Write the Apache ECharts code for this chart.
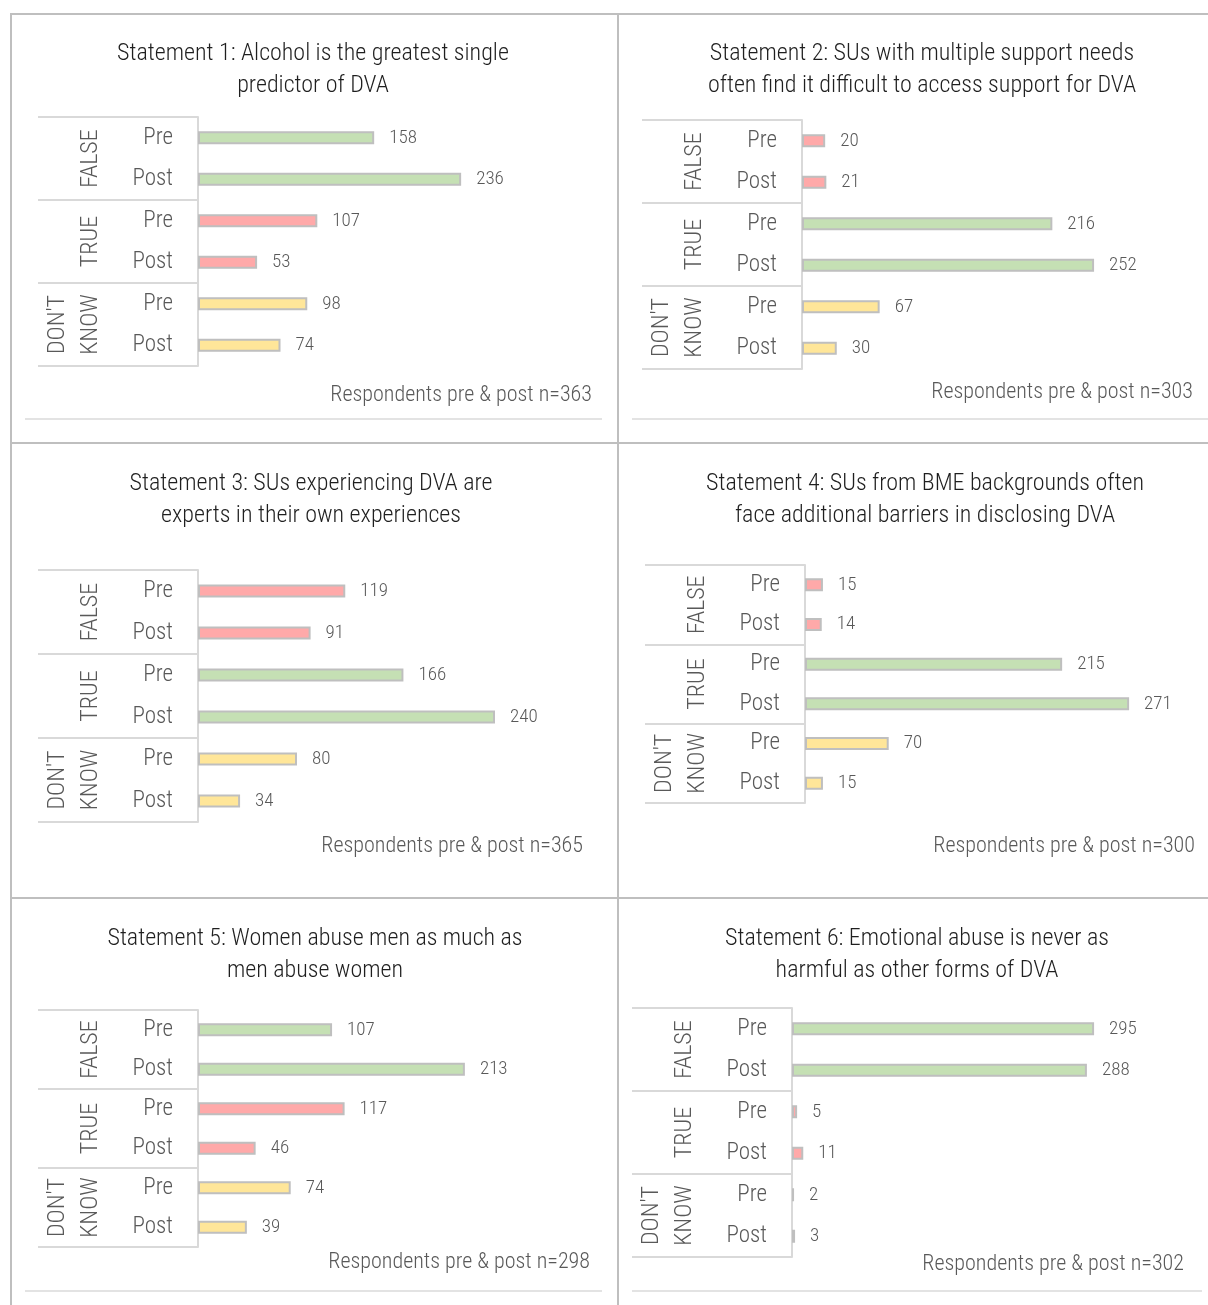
<!DOCTYPE html>
<html>
<head>
<meta charset="utf-8">
<script src="https://cdn.jsdelivr.net/npm/echarts@6/dist/echarts.min.js"></script>
<style>
  html, body { margin: 0; padding: 0; background: #ffffff; }
  #chart { width: 1208px; height: 1305px; }
</style>
</head>
<body>
<div id="chart"></div>
<script>
// Answer groups and survey phases (category axis)
const groups = ['FALSE', 'TRUE', "DON'T KNOW"];
const phases = ['Pre', 'Post'];

// Statement titles
const statements = [
  'Statement 1: Alcohol is the greatest single\npredictor of DVA',
  'Statement 2: SUs with multiple support needs\noften find it difficult to access support for DVA',
  'Statement 3: SUs experiencing DVA are\nexperts in their own experiences',
  'Statement 4: SUs from BME backgrounds often\nface additional barriers in disclosing DVA',
  'Statement 5: Women abuse men as much as\nmen abuse women',
  'Statement 6: Emotional abuse is never as\nharmful as other forms of DVA'
];

// Respondents per statement
const respondents = [363, 303, 365, 300, 298, 302];

// Counts in order: FALSE Pre, FALSE Post, TRUE Pre, TRUE Post, DON'T KNOW Pre, DON'T KNOW Post
const statement1 = [158, 236, 107, 53, 98, 74];
const statement2 = [20, 21, 216, 252, 67, 30];
const statement3 = [119, 91, 166, 240, 80, 34];
const statement4 = [15, 14, 215, 271, 70, 15];
const statement5 = [107, 213, 117, 46, 74, 39];
const statement6 = [295, 288, 5, 11, 2, 3];
const counts = [statement1, statement2, statement3, statement4, statement5, statement6];

// The correct answer for each statement
const correctAnswer = ['FALSE', 'TRUE', 'TRUE', 'TRUE', 'FALSE', 'FALSE'];

// ---- layout & styling ----
const FONT = "'Roboto Condensed', 'Liberation Sans Narrow', 'DejaVu Sans Condensed', sans-serif";
const WEIGHT = 300;
const TEXT_GREY = '#595959';
const LINE_GREY = '#d9d9d9';
const FRAME_GREY = '#bfbfbf';
const COLOR_RIGHT = '#c5e0b4';
const COLOR_WRONG = '#ffa9a9';
const COLOR_UNSURE = '#ffe699';
const X_MAX = 300;

// per panel: axis x, plot top/bottom, px per unit, title centre, title top, footnote right edge, footnote centre y
const panels = [
  { axisX: 198, top: 117, bottom: 366, ppu: 1.115, titleX: 313, titleTop: 38, footRight: 592, footY: 395 },
  { axisX: 802, top: 120, bottom: 369, ppu: 1.159, titleX: 922, titleTop: 38, footRight: 1193, footY: 392 },
  { axisX: 198, top: 570, bottom: 822, ppu: 1.2375, titleX: 311, titleTop: 468, footRight: 583, footY: 846 },
  { axisX: 805, top: 565, bottom: 803, ppu: 1.196, titleX: 925, titleTop: 468, footRight: 1195, footY: 846 },
  { axisX: 198, top: 1010, bottom: 1247, ppu: 1.253, titleX: 315, titleTop: 923, footRight: 590, footY: 1262 },
  { axisX: 792, top: 1008, bottom: 1257, ppu: 1.024, titleX: 917, titleTop: 923, footRight: 1184, footY: 1264 }
];

const categoryKeys = [];
groups.forEach(g => phases.forEach(p => categoryKeys.push(g + '|' + p)));

const grids = [], xAxes = [], yAxes = [], series = [], titles = [];

panels.forEach((pl, i) => {
  grids.push({
    left: pl.axisX, top: pl.top,
    width: X_MAX * pl.ppu, height: pl.bottom - pl.top,
    containLabel: false
  });
  xAxes.push({ gridIndex: i, type: 'value', min: 0, max: X_MAX, show: false });
  // inner level: Pre / Post
  yAxes.push({
    gridIndex: i, type: 'category', data: categoryKeys, inverse: true, position: 'left',
    axisLine: { show: false }, axisTick: { show: false }, splitLine: { show: false },
    axisLabel: {
      formatter: v => v.split('|')[1], margin: 25,
      color: TEXT_GREY, fontSize: 23, fontWeight: WEIGHT, fontFamily: FONT,
      padding: [8, 0, 0, 0]
    }
  });
  // outer level: answer group, with separators spanning the label table
  yAxes.push({
    gridIndex: i, type: 'category', data: groups, inverse: true, position: 'left',
    axisLine: { show: true, lineStyle: { color: LINE_GREY, width: 2 } },
    axisTick: { show: true, length: 160, lineStyle: { color: LINE_GREY, width: 2 } },
    splitLine: { show: false },
    axisLabel: {
      formatter: v => v.replace(' ', '\n'), rotate: 90, margin: 91,
      color: TEXT_GREY, fontSize: 24, lineHeight: 33, fontWeight: WEIGHT, fontFamily: FONT
    }
  });
  const colorFor = idx => {
    const g = groups[Math.floor(idx / phases.length)];
    if (g === "DON'T KNOW") return COLOR_UNSURE;
    return g === correctAnswer[i] ? COLOR_RIGHT : COLOR_WRONG;
  };
  series.push({
    type: 'bar', xAxisIndex: i, yAxisIndex: i * 2,
    barWidth: 13,
    data: counts[i].map((v, idx) => ({ value: v, itemStyle: { color: colorFor(idx) } })),
    itemStyle: { borderColor: FRAME_GREY, borderWidth: 2 },
    label: {
      show: true, position: 'right', distance: 15,
      color: TEXT_GREY, fontSize: 19, fontWeight: WEIGHT, fontFamily: FONT,
      padding: [6, 0, 0, 0]
    },
    silent: true, animation: false
  });
  titles.push({
    text: statements[i], left: pl.titleX, top: pl.titleTop, textAlign: 'center', padding: 0,
    textStyle: { color: '#1f1f1f', fontSize: 24, fontWeight: WEIGHT, lineHeight: 32, fontFamily: FONT }
  });
  titles.push({
    text: 'Respondents pre & post n=' + respondents[i],
    right: 1208 - pl.footRight, top: pl.footY - 14, padding: 0,
    textStyle: { color: TEXT_GREY, fontSize: 22, fontWeight: WEIGHT, lineHeight: 28, fontFamily: FONT }
  });
});

// panel frame and chart-area rules
const frame = { stroke: FRAME_GREY, lineWidth: 2 };
const rule = { stroke: '#e3e3e3', lineWidth: 2 };
const line = (x1, y1, x2, y2, style) => ({ type: 'line', shape: { x1, y1, x2, y2 }, style, silent: true });
const graphics = [
  line(10, 14, 1208, 14, frame),
  line(11, 13, 11, 1305, frame),
  line(618, 13, 618, 1305, frame),
  line(10, 443, 1208, 443, frame),
  line(10, 898, 1208, 898, frame),
  line(25, 419, 602, 419, rule),
  line(632, 419, 1208, 419, rule),
  line(25, 1291, 602, 1291, rule),
  line(632, 1291, 1202, 1291, rule)
];

const chart = echarts.init(document.getElementById('chart'), null, { renderer: 'canvas' });
chart.setOption({
  backgroundColor: '#ffffff',
  animation: false,
  title: titles,
  grid: grids,
  xAxis: xAxes,
  yAxis: yAxes,
  series: series,
  graphic: graphics
});
</script>
</body>
</html>
